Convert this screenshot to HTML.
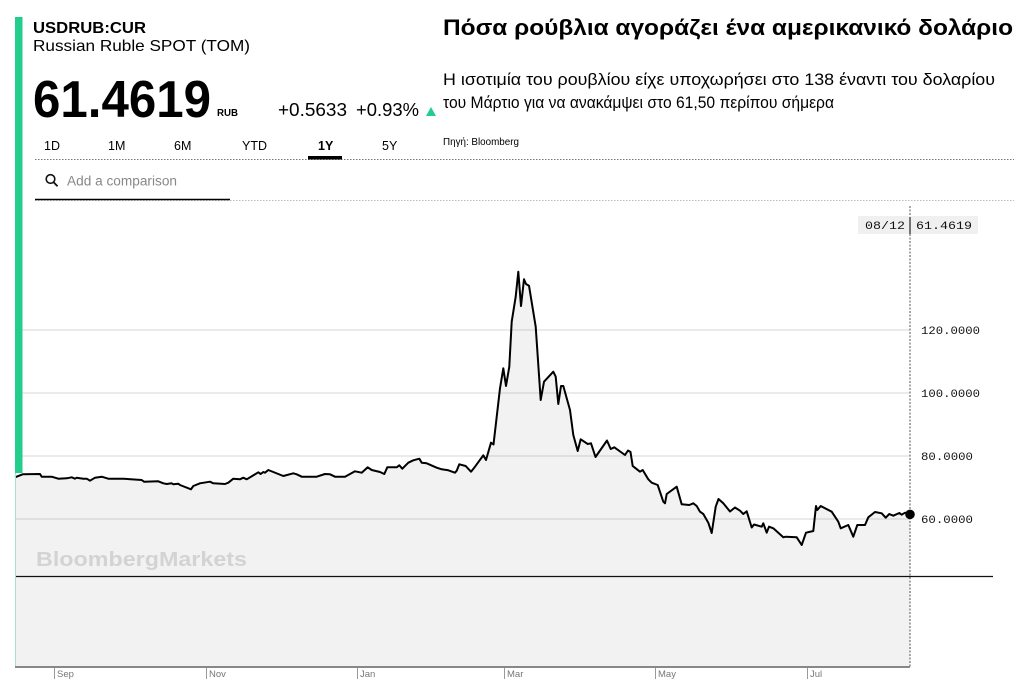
<!DOCTYPE html>
<html><head><meta charset="utf-8"><style>
html,body{margin:0;padding:0;background:#fff;width:1024px;height:699px;overflow:hidden}
svg{display:block}
</style></head><body>
<svg width="1024" height="699" viewBox="0 0 1024 699" xmlns="http://www.w3.org/2000/svg" font-family="'Liberation Sans', Arial, sans-serif">
<rect width="1024" height="699" fill="#fff"/>
<!-- chart fill -->
<path d="M15,477.3 L22.7,474.3 L40,474 L41.7,476.7 L51.7,476.7 L58.3,478.7 L66.7,478.3 L71.7,477.3 L75,478.7 L76.7,477.7 L83.3,478.7 L86.7,478.7 L90,480.7 L95,477.7 L101.7,476.7 L108.3,478.7 L123.3,478.7 L141.7,480 L144,481.7 L158.3,481.3 L163.3,483.3 L166.7,484 L171.7,483.3 L173.3,484.3 L178.3,483.7 L180,485 L191,489.3 L193.3,486 L200,483.3 L210,481.7 L213.3,483.3 L225,484 L228.3,482.7 L233.3,478.7 L240,479.3 L243.3,477.7 L246.7,479.3 L258.3,472.3 L260.7,474 L263.3,472 L265,472.7 L268.3,470 L273.3,472 L283.3,476 L293.3,473.3 L296.7,474.3 L301.7,476.7 L316.7,476.7 L325,474 L330,474.3 L335,476.7 L345,476.7 L355,471.3 L361.7,472.7 L367.7,467.3 L371.7,470 L380,472 L384.3,474 L387.3,467.3 L396.7,467.3 L399.3,465.3 L402.3,468.7 L408.3,462.7 L413.3,460.3 L419.3,458.7 L421.7,462.7 L426.7,463.3 L436.7,467.7 L441.7,469.3 L448.3,470.3 L455,472.7 L456.7,470.7 L459.3,464.3 L465.7,466 L471,471.7 L475,466.7 L483.3,455.3 L486,460 L491,442.7 L493.5,444.5 L500,388.3 L503.3,368.3 L506,386 L509.3,366.7 L511.7,321.7 L515.7,296.7 L518.3,271.7 L521,306 L524,279.3 L526,284 L529,285.7 L535.7,326.7 L540.7,400 L544,381.7 L553.3,371.7 L555.7,376.7 L558.3,404 L561,386 L563.3,386 L570,410 L573.3,435 L577.7,451 L580.7,439.3 L587.7,444 L591,443.3 L595.5,457 L607,440.5 L610.7,449 L614.3,447.3 L625,455 L628,450.5 L630.5,452 L632.7,466 L640,471.7 L642.7,470 L648.3,479.3 L651.7,482.7 L657.7,485 L663.3,501.7 L665,503.3 L666.7,494 L676.7,486.7 L681.7,504.3 L689.3,505 L693.3,503.3 L696.7,506 L700,511.7 L703.3,514 L708.3,522.7 L711.7,533 L715.7,506.7 L718.5,499 L723.3,503.3 L730,511.5 L735,507.5 L740,510.7 L743.3,514 L746.7,511.3 L751.7,527.5 L754,524.5 L761.7,526.7 L763.3,523.3 L766.7,532.7 L769,526.7 L773.3,528.3 L783.3,537.3 L785.7,536.7 L796.7,537.3 L801.7,545 L806,532.7 L813.3,531 L816,506 L817.3,510 L820.7,506 L831.7,511.7 L838.3,521.7 L840.7,528.3 L848.3,525 L853.3,536.7 L857.3,525 L865,525 L868.3,517.3 L875,512 L881.7,513.3 L885.7,517.7 L889.3,514 L893.3,515.7 L899.3,513 L901.7,514.7 L905,512.7 L910,514 L910,667 L15,667 Z" fill="#f2f2f2"/>
<!-- gridlines -->
<g stroke="#000" stroke-opacity="0.08" stroke-width="2">
<line x1="15" y1="330" x2="910" y2="330"/>
<line x1="15" y1="393" x2="910" y2="393"/>
<line x1="15" y1="456" x2="910" y2="456"/>
<line x1="15" y1="519" x2="910" y2="519"/>
</g>
<!-- watermark -->
<text x="36" y="566" font-size="20" font-weight="bold" fill="#d3d3d3" textLength="211" lengthAdjust="spacingAndGlyphs">BloombergMarkets</text>
<!-- black separator -->
<line x1="15" y1="576.5" x2="993" y2="576.5" stroke="#111" stroke-width="1.3"/>
<!-- data line -->
<path d="M15,477.3 L22.7,474.3 L40,474 L41.7,476.7 L51.7,476.7 L58.3,478.7 L66.7,478.3 L71.7,477.3 L75,478.7 L76.7,477.7 L83.3,478.7 L86.7,478.7 L90,480.7 L95,477.7 L101.7,476.7 L108.3,478.7 L123.3,478.7 L141.7,480 L144,481.7 L158.3,481.3 L163.3,483.3 L166.7,484 L171.7,483.3 L173.3,484.3 L178.3,483.7 L180,485 L191,489.3 L193.3,486 L200,483.3 L210,481.7 L213.3,483.3 L225,484 L228.3,482.7 L233.3,478.7 L240,479.3 L243.3,477.7 L246.7,479.3 L258.3,472.3 L260.7,474 L263.3,472 L265,472.7 L268.3,470 L273.3,472 L283.3,476 L293.3,473.3 L296.7,474.3 L301.7,476.7 L316.7,476.7 L325,474 L330,474.3 L335,476.7 L345,476.7 L355,471.3 L361.7,472.7 L367.7,467.3 L371.7,470 L380,472 L384.3,474 L387.3,467.3 L396.7,467.3 L399.3,465.3 L402.3,468.7 L408.3,462.7 L413.3,460.3 L419.3,458.7 L421.7,462.7 L426.7,463.3 L436.7,467.7 L441.7,469.3 L448.3,470.3 L455,472.7 L456.7,470.7 L459.3,464.3 L465.7,466 L471,471.7 L475,466.7 L483.3,455.3 L486,460 L491,442.7 L493.5,444.5 L500,388.3 L503.3,368.3 L506,386 L509.3,366.7 L511.7,321.7 L515.7,296.7 L518.3,271.7 L521,306 L524,279.3 L526,284 L529,285.7 L535.7,326.7 L540.7,400 L544,381.7 L553.3,371.7 L555.7,376.7 L558.3,404 L561,386 L563.3,386 L570,410 L573.3,435 L577.7,451 L580.7,439.3 L587.7,444 L591,443.3 L595.5,457 L607,440.5 L610.7,449 L614.3,447.3 L625,455 L628,450.5 L630.5,452 L632.7,466 L640,471.7 L642.7,470 L648.3,479.3 L651.7,482.7 L657.7,485 L663.3,501.7 L665,503.3 L666.7,494 L676.7,486.7 L681.7,504.3 L689.3,505 L693.3,503.3 L696.7,506 L700,511.7 L703.3,514 L708.3,522.7 L711.7,533 L715.7,506.7 L718.5,499 L723.3,503.3 L730,511.5 L735,507.5 L740,510.7 L743.3,514 L746.7,511.3 L751.7,527.5 L754,524.5 L761.7,526.7 L763.3,523.3 L766.7,532.7 L769,526.7 L773.3,528.3 L783.3,537.3 L785.7,536.7 L796.7,537.3 L801.7,545 L806,532.7 L813.3,531 L816,506 L817.3,510 L820.7,506 L831.7,511.7 L838.3,521.7 L840.7,528.3 L848.3,525 L853.3,536.7 L857.3,525 L865,525 L868.3,517.3 L875,512 L881.7,513.3 L885.7,517.7 L889.3,514 L893.3,515.7 L899.3,513 L901.7,514.7 L905,512.7 L910,514" fill="none" stroke="#000" stroke-width="2" stroke-linejoin="round"/>
<!-- vertical dotted cursor -->
<line x1="910" y1="206" x2="910" y2="667" stroke="#555" stroke-width="1" stroke-dasharray="2,1.5"/>
<circle cx="910" cy="514.4" r="4.8" fill="#000"/>
<!-- value box -->
<rect x="858" y="216" width="120" height="18" fill="#f0f0f0"/>
<line x1="910" y1="217" x2="910" y2="234" stroke="#222" stroke-width="1.2"/>
<g font-family="'Liberation Mono', 'DejaVu Sans Mono', monospace" font-size="11" fill="#111">
<text x="865" y="229" textLength="40" lengthAdjust="spacingAndGlyphs">08/12</text>
<text x="916" y="229" textLength="56" lengthAdjust="spacingAndGlyphs">61.4619</text>
<text x="921" y="334" textLength="59" lengthAdjust="spacingAndGlyphs">120.0000</text>
<text x="921" y="397" textLength="59" lengthAdjust="spacingAndGlyphs">100.0000</text>
<text x="921" y="460" textLength="52" lengthAdjust="spacingAndGlyphs">80.0000</text>
<text x="921" y="523" textLength="52" lengthAdjust="spacingAndGlyphs">60.0000</text>
</g>
<!-- left edge -->
<line x1="15.5" y1="473" x2="15.5" y2="667" stroke="#a6e3cb" stroke-width="1"/>
<rect x="15" y="17" width="7.5" height="456" fill="#22cd8e"/>
<!-- bottom axis -->
<line x1="15" y1="667" x2="910" y2="667" stroke="#888" stroke-width="2"/>
<g stroke="#999" stroke-width="1">
<line x1="54.5" y1="668" x2="54.5" y2="679"/>
<line x1="206.5" y1="668" x2="206.5" y2="679"/>
<line x1="357.5" y1="668" x2="357.5" y2="679"/>
<line x1="504.5" y1="668" x2="504.5" y2="679"/>
<line x1="655.5" y1="668" x2="655.5" y2="679"/>
<line x1="807.5" y1="668" x2="807.5" y2="679"/>
</g>
<g font-size="9.5" fill="#777">
<text x="57" y="677">Sep</text>
<text x="209" y="677">Nov</text>
<text x="360" y="677">Jan</text>
<text x="507" y="677">Mar</text>
<text x="658" y="677">May</text>
<text x="810" y="677">Jul</text>
</g>
<!-- header left -->
<text x="33" y="33" font-size="15.5" font-weight="bold" fill="#000" textLength="113" lengthAdjust="spacingAndGlyphs">USDRUB:CUR</text>
<text x="33" y="51" font-size="16" fill="#000" textLength="217" lengthAdjust="spacingAndGlyphs">Russian Ruble SPOT (TOM)</text>
<text x="33" y="117" font-size="52" font-weight="bold" fill="#000" textLength="178" lengthAdjust="spacingAndGlyphs">61.4619</text>
<text x="217" y="116" font-size="10.5" font-weight="bold" fill="#000" textLength="21" lengthAdjust="spacingAndGlyphs">RUB</text>
<text x="278" y="116" font-size="18.5" fill="#000" textLength="69" lengthAdjust="spacingAndGlyphs">+0.5633</text>
<text x="356" y="116" font-size="18.5" fill="#000" textLength="63" lengthAdjust="spacingAndGlyphs">+0.93%</text>
<polygon points="426,116 436,116 431,107" fill="#22cd8e"/>
<!-- tabs -->
<g font-size="12.5" fill="#000">
<text x="44" y="150">1D</text>
<text x="108" y="150">1M</text>
<text x="174" y="150">6M</text>
<text x="242" y="150">YTD</text>
<text x="318" y="150" font-weight="bold">1Y</text>
<text x="382" y="150">5Y</text>
</g>
<line x1="35" y1="159.5" x2="1014" y2="159.5" stroke="#777" stroke-width="1" stroke-dasharray="1.5,1.5"/>
<rect x="308" y="156" width="34" height="3.5" fill="#000"/>
<!-- search -->
<circle cx="50.5" cy="179" r="4.3" fill="none" stroke="#111" stroke-width="1.6"/>
<line x1="53.6" y1="182.2" x2="57.5" y2="186.3" stroke="#111" stroke-width="1.8"/>
<text x="67" y="185.5" font-size="13.5" fill="#888" textLength="110" lengthAdjust="spacingAndGlyphs">Add a comparison</text>
<line x1="35" y1="200.5" x2="1014" y2="200.5" stroke="#bbb" stroke-width="1" stroke-dasharray="1.5,1.5"/>
<line x1="35" y1="199.5" x2="230" y2="199.5" stroke="#000" stroke-width="1.5"/>
<!-- Greek annotation -->
<g font-family="'Liberation Sans', 'DejaVu Sans', sans-serif" fill="#000">
<text x="443" y="35" font-size="22.5" font-weight="bold" textLength="570" lengthAdjust="spacingAndGlyphs">Πόσα ρούβλια αγοράζει ένα αμερικανικό δολάριο</text>
<text x="443" y="85" font-size="17" textLength="552" lengthAdjust="spacingAndGlyphs">Η ισοτιμία του ρουβλίου είχε υποχωρήσει στο 138 έναντι του δολαρίου</text>
<text x="443" y="108" font-size="17" textLength="391" lengthAdjust="spacingAndGlyphs">του Μάρτιο για να ανακάμψει στο 61,50 περίπου σήμερα</text>
<text x="443" y="145" font-size="10.5" textLength="76" lengthAdjust="spacingAndGlyphs">Πηγή: Bloomberg</text>
</g>
</svg>
</body></html>
